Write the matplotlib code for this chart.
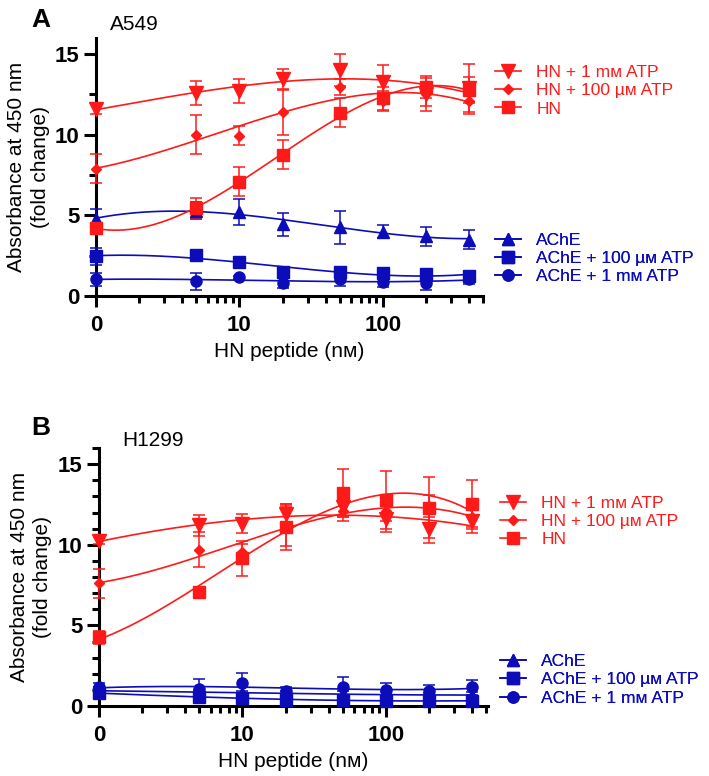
import matplotlib
matplotlib.use("Agg")
import matplotlib.pyplot as plt
import numpy as np
from matplotlib.lines import Line2D
from matplotlib.ticker import FixedLocator, LogLocator, MultipleLocator, NullFormatter

plt.rcParams["font.family"] = ["Liberation Sans", "DejaVu Sans"]

RED = "#ff1a1a"
BLUE = "#0c0cb8"

# HN peptide (nM); the 0 nM control sits at 1 on the log axis
conc = [0, 5, 10, 20, 50, 100, 200, 400]

# panel A, A549
a_hn_1mm = [11.6, 12.6, 12.7, 13.45, 14.0, 13.3, 12.5, 12.9]
a_hn_1mm_err = [0.3, 0.75, 0.75, 0.6, 1.0, 1.0, 1.0, 1.5]
a_hn_100um = [7.9, 10.0, 9.95, 11.4, 12.95, 12.1, 12.5, 12.1]
a_hn_100um_err = [0.9, 1.2, 0.6, 1.4, 0.5, 0.6, 0.7, 0.8]
a_hn = [4.2, 5.45, 7.1, 8.75, 11.35, 12.25, 12.95, 12.8]
a_hn_err = [0.3, 0.6, 0.9, 0.9, 0.9, 0.7, 0.7, 0.8]
a_ache = [4.8, 5.3, 5.2, 4.45, 4.25, 4.0, 3.7, 3.5]
a_ache_err = [0.6, 0.5, 0.8, 0.7, 1.0, 0.4, 0.6, 0.6]
a_ache_100um = [2.45, 2.55, 2.1, 1.5, 1.5, 1.4, 1.35, 1.25]
a_ache_100um_err = [0.5, 0.1, 0.15, 0.3, 0.3, 0.3, 0.3, 0.3]
a_ache_1mm = [1.05, 0.9, 1.15, 0.8, 1.05, 0.85, 0.8, 1.05]
a_ache_1mm_err = [0.4, 0.5, 0.1, 0.3, 0.4, 0.3, 0.45, 0.3]

# panel B, H1299
b_hn_1mm = [10.25, 11.2, 11.3, 11.9, 12.35, 11.6, 11.0, 11.45]
b_hn_1mm_err = [0.2, 0.65, 0.6, 0.5, 0.6, 0.8, 0.9, 0.7]
b_hn_100um = [7.6, 9.7, 9.55, 11.2, 12.1, 12.1, 12.4, 11.7]
b_hn_100um_err = [0.9, 1.1, 0.5, 1.3, 0.6, 0.6, 0.7, 0.6]
b_hn = [4.25, 7.05, 9.15, 11.1, 13.2, 12.8, 12.3, 12.5]
b_hn_err = [0.4, 0.3, 1.1, 1.4, 1.5, 1.8, 1.9, 1.5]
b_ache = [0.95, 0.85, 0.8, 0.8, 0.75, 0.7, 0.65, 0.7]
b_ache_err = [0.2, 0.15, 0.15, 0.15, 0.15, 0.15, 0.15, 0.15]
b_ache_100um = [0.8, 0.55, 0.5, 0.4, 0.35, 0.33, 0.3, 0.33]
b_ache_100um_err = [0.2, 0.2, 0.2, 0.15, 0.15, 0.15, 0.15, 0.15]
b_ache_1mm = [1.15, 1.05, 1.4, 0.95, 1.2, 1.0, 0.9, 1.15]
b_ache_1mm_err = [0.3, 0.6, 0.65, 0.2, 0.6, 0.4, 0.4, 0.45]

LBL_HN_1MM = "HN + 1 m\u1d0d ATP"
LBL_HN_100UM = "HN + 100 \u00b5\u1d0d ATP"
LBL_HN = "HN"
LBL_ACHE = "AChE"
LBL_ACHE_100UM = "AChE + 100 \u00b5\u1d0d ATP"
LBL_ACHE_1MM = "AChE + 1 m\u1d0d ATP"

MARKERS = {
    LBL_HN_1MM: ("v", 9.5),
    LBL_HN_100UM: ("D", 5.5),
    LBL_HN: ("s", 8),
    LBL_ACHE: ("^", 8),
    LBL_ACHE_100UM: ("s", 8),
    LBL_ACHE_1MM: ("o", 8),
}


def draw_series(ax, means, errs, label, color):
    marker, ms = MARKERS[label]
    xs = np.array([c if c > 0 else 1 for c in conc], dtype=float)
    ax.errorbar(xs, means, yerr=errs, fmt=marker, ms=ms, color=color, ecolor=color,
                elinewidth=1.1, capsize=4, capthick=1.1, clip_on=False, zorder=3)
    # smooth fitted curve through the means
    coef = np.polyfit(np.log10(xs), means, 3)
    xf = np.geomspace(1, 400, 200)
    ax.plot(xf, np.polyval(coef, np.log10(xf)), color=color, lw=1.2, zorder=2)


def legend_handles(labels, color):
    return [Line2D([], [], color=color, lw=1.2, marker=MARKERS[l][0], ms=MARKERS[l][1]) for l in labels]


def style_axes(ax, xmax, ymin_step):
    ax.set_xscale("log")
    ax.set_xlim(1, xmax)
    ax.set_ylim(0, 16)
    ax.xaxis.set_major_locator(FixedLocator([1, 10, 100]))
    ax.set_xticks([1, 10, 100], ["0", "10", "100"], fontweight="bold", fontsize=16)
    ax.xaxis.set_minor_locator(LogLocator(base=10, subs=np.arange(2, 10)))
    ax.xaxis.set_minor_formatter(NullFormatter())
    ax.set_yticks([0, 5, 10, 15], ["0", "5", "10", "15"], fontweight="bold", fontsize=16)
    ax.yaxis.set_minor_locator(MultipleLocator(ymin_step))
    for side in ["top", "right"]:
        ax.spines[side].set_visible(False)
    for side in ["left", "bottom"]:
        ax.spines[side].set_linewidth(2.2)
    ax.tick_params(which="major", axis="y", length=9, width=2.2, pad=3)
    ax.tick_params(which="major", axis="x", length=8, width=2.2, pad=6)
    ax.tick_params(which="minor", length=5, width=2.2)
    ax.set_ylabel("Absorbance at 450 nm\n(fold change)", fontsize=15, linespacing=1.3)
    ax.yaxis.set_label_coords(-0.12, 0.5)


fig = plt.figure(figsize=(7.09, 7.76), dpi=100)

ax_a = fig.add_axes([96 / 709, 1 - 296 / 776, 387 / 709, 258 / 776])
ax_b = fig.add_axes([99 / 709, 1 - 706 / 776, 389 / 709, 258 / 776])

panels = [
    (ax_a, 500, 2.5,
     [(a_ache, a_ache_err, LBL_ACHE), (a_ache_100um, a_ache_100um_err, LBL_ACHE_100UM),
      (a_ache_1mm, a_ache_1mm_err, LBL_ACHE_1MM)],
     [(a_hn_1mm, a_hn_1mm_err, LBL_HN_1MM), (a_hn_100um, a_hn_100um_err, LBL_HN_100UM),
      (a_hn, a_hn_err, LBL_HN)],
     0.872, 0.221),
    (ax_b, 515, 1,
     [(b_ache, b_ache_err, LBL_ACHE), (b_ache_100um, b_ache_100um_err, LBL_ACHE_100UM),
      (b_ache_1mm, b_ache_1mm_err, LBL_ACHE_1MM)],
     [(b_hn_1mm, b_hn_1mm_err, LBL_HN_1MM), (b_hn_100um, b_hn_100um_err, LBL_HN_100UM),
      (b_hn, b_hn_err, LBL_HN)],
     0.791, 0.178),
]

for ax, xmax, ystep, blue_series, red_series, red_y, blue_y in panels:
    style_axes(ax, xmax, ystep)
    for means, errs, label in blue_series:
        draw_series(ax, means, errs, label, BLUE)
    for means, errs, label in red_series:
        draw_series(ax, means, errs, label, RED)

    red_labels = [s[2] for s in red_series]
    blue_labels = [s[2] for s in blue_series]
    for labels, color, ytop in [(red_labels, RED, red_y), (blue_labels, BLUE, blue_y)]:
        leg = ax.legend(legend_handles(labels, color), labels, loc="upper left",
                        bbox_to_anchor=(1.03, ytop + 0.024), frameon=False, fontsize=12.5,
                        handlelength=1.5, handletextpad=0.9, labelspacing=0.18,
                        borderpad=0, borderaxespad=0, labelcolor=color)
        ax.add_artist(leg)

ax_b.set_xlabel("HN peptide (n\u1d0d)", fontsize=15, labelpad=4)
ax_a.set_xlabel("HN peptide (n\u1d0d)", fontsize=15, labelpad=4)

fig.text(31 / 709, 1 - 20 / 776, "A", fontsize=19, fontweight="bold", va="center")
fig.text(110 / 709, 1 - 25 / 776, "A549", fontsize=15, va="center")
fig.text(31 / 709, 1 - 428 / 776, "B", fontsize=19, fontweight="bold", va="center")
fig.text(122 / 709, 1 - 440 / 776, "H1299", fontsize=15, va="center")

fig.savefig("out.png", dpi=100)
